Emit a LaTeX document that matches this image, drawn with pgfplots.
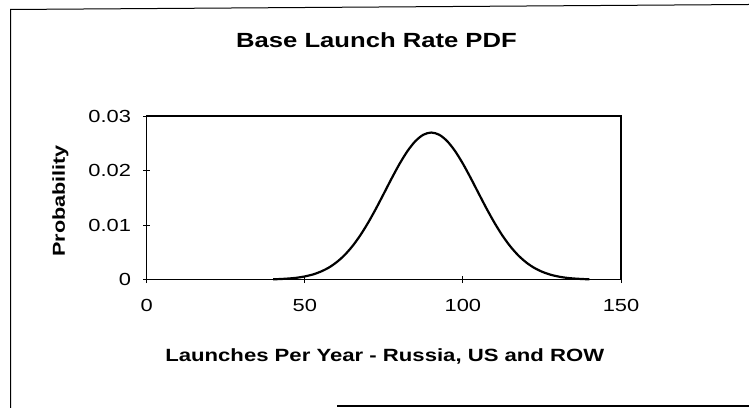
\documentclass[border=0pt]{standalone}
\usepackage{fontspec}
\setmainfont{Liberation Sans}[FakeStretch=1.25]
\usepackage{pgfplots}
\pgfplotsset{compat=1.18}
\begin{document}
\begin{tikzpicture}
\useasboundingbox (0bp,0bp) rectangle (749bp,408bp);
\draw[line width=1bp] (10.5bp,0bp) -- (10.5bp,398.5bp) -- (749bp,403.5bp);
\draw[line width=1.2bp] (337bp,2bp) -- (749bp,2bp);
\begin{axis}[
  anchor=south west, at={(146.7bp,128.3bp)},
  scale only axis, width=474.3bp, height=163.5bp,
  xmin=0, xmax=150, ymin=0, ymax=0.03,
  scaled y ticks=false, scaled x ticks=false,
  xtick={0,50,100,150}, xticklabels={0,50,100,150},
  ytick={0,0.01,0.02,0.03}, yticklabels={0,0.01,0.02,0.03},
  xtick pos=bottom, ytick pos=left,
  tick align=center, major tick length=7bp,
  tick style={line width=1bp, black},
  axis line style={line width=1.5bp},
  ticklabel style={font=\fontsize{17.5bp}{21bp}\selectfont, inner sep=0pt},
  yticklabel style={anchor=east, xshift=-12bp},
  xticklabel style={anchor=north, yshift=-16bp},
  title={Base Launch Rate PDF},
  title style={font=\bfseries\fontsize{20.5bp}{24bp}\selectfont, at={(axis description cs:0.4845,1.3847)}, anchor=base, inner sep=0pt},
  xlabel={Launches Per Year - Russia, US and ROW},
  xlabel style={font=\bfseries\fontsize{17.7bp}{21bp}\selectfont, at={(axis description cs:0.502,-0.5015)}, anchor=base, inner sep=0pt},
  ylabel={Probability},
  ylabel style={font=\bfseries\fontsize{17.3bp}{21bp}\selectfont, at={(axis description cs:-0.1723,0.482)}, anchor=base, rotate=0, inner sep=0pt},
  clip=false,
]
\addplot[black, line width=2.2bp, smooth] coordinates {
(40,0.00007) (42.5,0.00013) (45,0.00022) (47.5,0.00036) (50,0.00060)
(52.5,0.00095) (55,0.00147) (57.5,0.00219) (60,0.00318) (62.5,0.00447)
(65,0.00611) (67.5,0.00810) (70,0.01043) (72.5,0.01303) (75,0.01581)
(77.5,0.01862) (80,0.02129) (82.5,0.02362) (85,0.02544) (87.5,0.02660)
(90,0.02700)
(92.5,0.02660) (95,0.02544) (97.5,0.02362) (100,0.02129) (102.5,0.01862)
(105,0.01581) (107.5,0.01303) (110,0.01043) (112.5,0.00810) (115,0.00611)
(117.5,0.00447) (120,0.00318) (122.5,0.00219) (125,0.00147) (127.5,0.00095)
(130,0.00060) (132.5,0.00036) (135,0.00022) (137.5,0.00013) (140,0.00007)
};
\end{axis}
\end{tikzpicture}
\end{document}
